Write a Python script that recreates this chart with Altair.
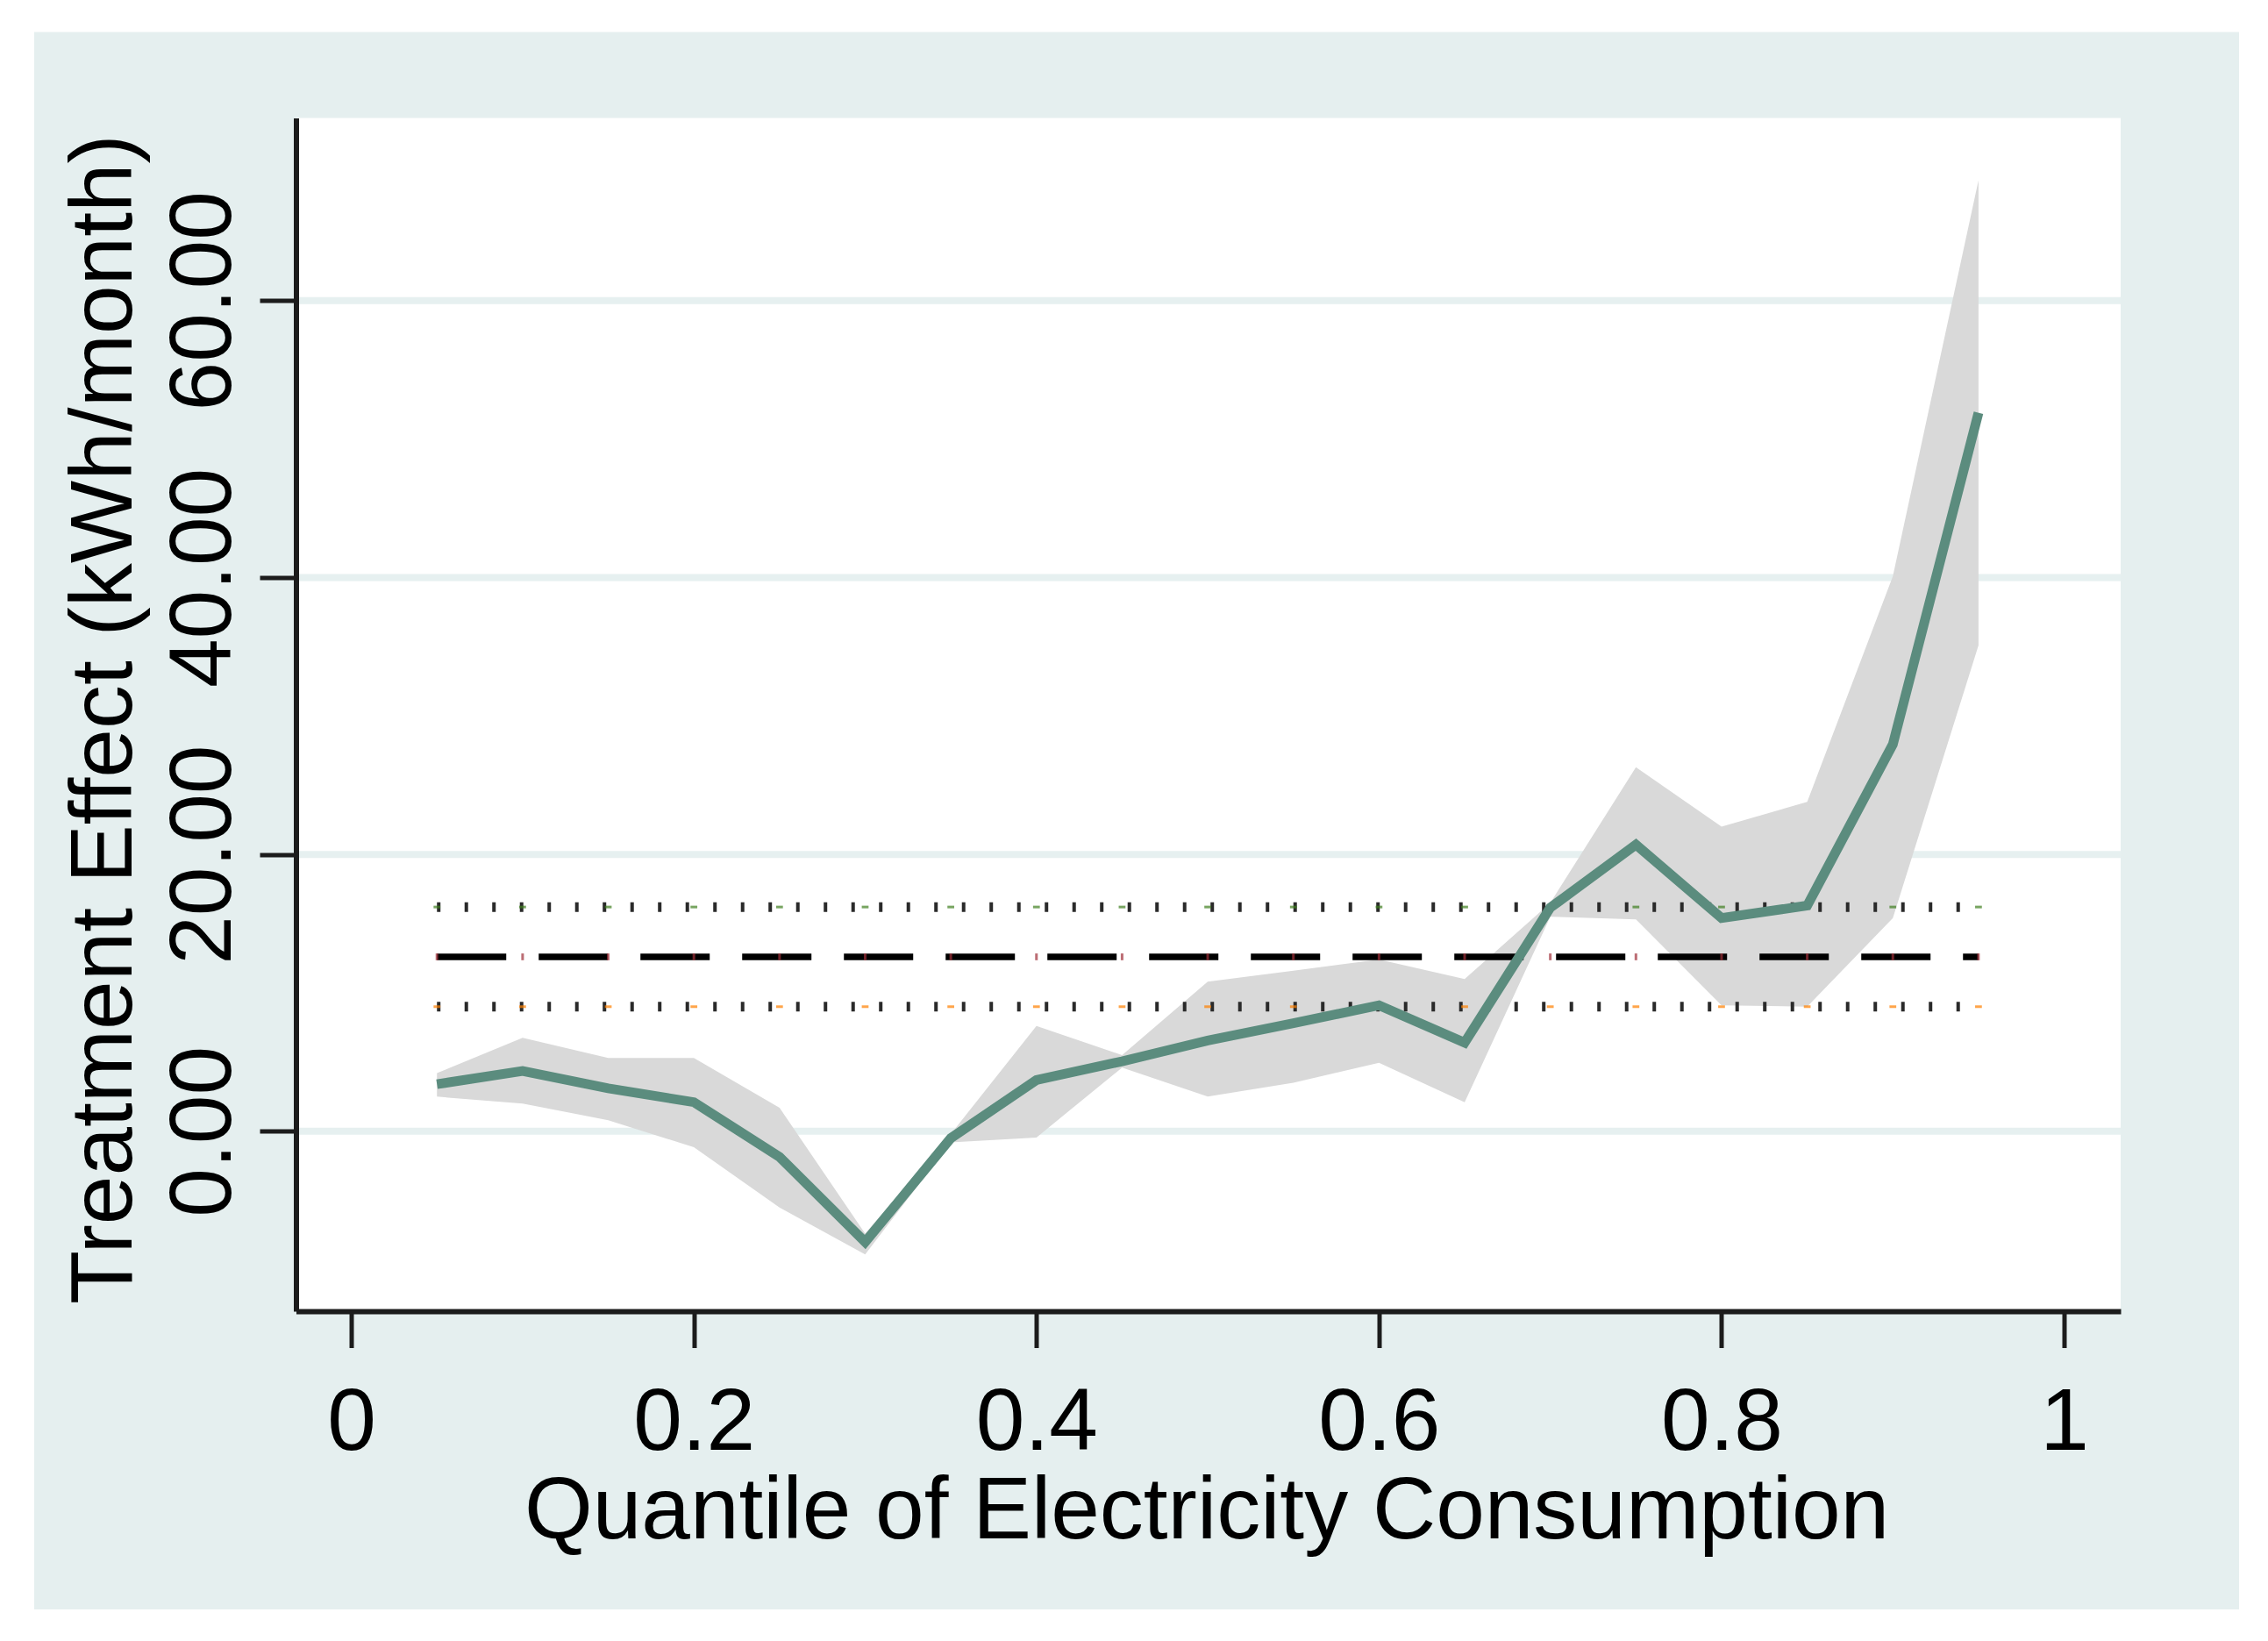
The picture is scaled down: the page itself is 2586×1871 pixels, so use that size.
import altair as alt
import pandas as pd

# ---- data ----
quantiles = [0.05, 0.10, 0.15, 0.20, 0.25, 0.30, 0.35, 0.40, 0.45, 0.50,
             0.55, 0.60, 0.65, 0.70, 0.75, 0.80, 0.85, 0.90, 0.95]
effect = [3.4, 4.35, 3.1, 2.1, -1.85, -8.0, -0.5, 3.7, 5.05, 6.55,
          7.8, 9.1, 6.4, 16.15, 20.7, 15.4, 16.3, 27.95, 51.9]
ci_low = [2.5, 2.0, 0.8, -1.15, -5.5, -8.9, -0.8, -0.45, 4.6, 2.5,
          3.5, 4.95, 2.1, 15.5, 15.3, 9.1, 9.0, 15.4, 35.1]
ci_high = [4.2, 6.75, 5.3, 5.3, 1.7, -7.4, -0.2, 7.6, 5.5, 10.8,
           11.6, 12.4, 11.0, 16.5, 26.3, 22.0, 23.8, 40.1, 68.7]

ref_x = [0.05, 0.95]
ate_mean = 12.6
ate_high = 16.2
ate_low = 9.0

x_ticks = [0, 0.2, 0.4, 0.6, 0.8, 1]
y_ticks = [0, 20, 40, 60]

x_title = "Quantile of Electricity Consumption"
y_title = "Treatment Effect (kWh/month)"

# ---- styles ----
W, H = 2080.5, 1360.5
PANEL = "#e5efef"
GRID = "#e6f0f0"
LINE = "#5b8c7e"
BAND = "#d9d9d9"
FONT = "Liberation Sans"

x_scale = alt.Scale(domain=[-0.0323, 1.033], nice=False, zero=False)
y_scale = alt.Scale(domain=[-13.0, 73.2], nice=False, zero=False)

x_axis = alt.Axis(values=x_ticks, format="~g", title=x_title, grid=False,
                  domainColor="#1c1c1c", domainWidth=6, tickColor="#1c1c1c",
                  tickWidth=5, tickSize=41.5, labelFontSize=100, labelFont=FONT,
                  labelColor="black", labelPadding=116, labelBaseline="alphabetic",
                  labelAlign="center", labelFlush=False, labelOverlap=False,
                  labelBound=False, labelLimit=0, titleFontSize=100, titleFont=FONT,
                  titleFontWeight="normal", titleColor="black", titleLimit=0,
                  titleBaseline="alphabetic", titleAlign="center",
                  titleX=1038, titleY=258.5, zindex=1)
y_axis = alt.Axis(values=y_ticks, format=".2f", title=y_title, grid=False,
                  domainColor="#1c1c1c", domainWidth=6, tickColor="#1c1c1c",
                  tickWidth=5, tickSize=41.5, labelFontSize=100, labelFont=FONT,
                  labelColor="black", labelAngle=270, labelAlign="center",
                  labelBaseline="alphabetic", labelPadding=34, labelFlush=False,
                  labelOverlap=False, labelBound=False, labelLimit=0,
                  titleFontSize=100, titleLimit=0,
                  titleFont=FONT, titleFontWeight="normal", titleColor="black",
                  titleAngle=270, titleAlign="center", titleBaseline="alphabetic",
                  titleX=-188.5, titleY=685, zindex=1)

one = pd.DataFrame({"d": [0]})
df = pd.DataFrame({"q": quantiles, "est": effect, "lo": ci_low, "hi": ci_high})
grid_df = pd.DataFrame({"g": y_ticks})
ref_df = pd.DataFrame({"x1": [ref_x[0]], "x2": [ref_x[1]],
                       "mean": [ate_mean], "hi": [ate_high], "lo": [ate_low]})
mk_df = pd.DataFrame({"q": quantiles,
                      "mean": [ate_mean] * len(quantiles),
                      "hi": [ate_high] * len(quantiles),
                      "lo": [ate_low] * len(quantiles)})

panel = alt.Chart(one).mark_rect(color=PANEL).encode(
    x=alt.value(-298.5), x2=alt.value(2215.5), y=alt.value(-98), y2=alt.value(1700.5))
plot_bg = alt.Chart(one).mark_rect(color="white").encode(
    x=alt.value(0), x2=alt.value(W), y=alt.value(0), y2=alt.value(H))

grid = alt.Chart(grid_df).mark_rule(color=GRID, strokeWidth=8).encode(
    y=alt.Y("g:Q", scale=y_scale, axis=y_axis), x=alt.value(0), x2=alt.value(W))

band = alt.Chart(df).mark_area(color=BAND, opacity=1).encode(
    x=alt.X("q:Q", scale=x_scale, axis=x_axis),
    y=alt.Y("lo:Q", scale=y_scale, axis=y_axis),
    y2="hi:Q")

ref_mean = alt.Chart(ref_df).mark_rule(color="black", strokeWidth=7.5,
                                       strokeDash=[79, 37]).encode(
    x=alt.X("x1:Q", scale=x_scale, axis=x_axis), x2="x2:Q",
    y=alt.Y("mean:Q", scale=y_scale, axis=y_axis))
ref_hi = alt.Chart(ref_df).mark_rule(color="#2a2a2a", strokeWidth=11,
                                     strokeDash=[4, 27.5]).encode(
    x=alt.X("x1:Q", scale=x_scale, axis=x_axis), x2="x2:Q",
    y=alt.Y("hi:Q", scale=y_scale, axis=y_axis))
ref_lo = alt.Chart(ref_df).mark_rule(color="#2a2a2a", strokeWidth=11,
                                     strokeDash=[4, 27.5]).encode(
    x=alt.X("x1:Q", scale=x_scale, axis=x_axis), x2="x2:Q",
    y=alt.Y("lo:Q", scale=y_scale, axis=y_axis))

mk_mean = alt.Chart(mk_df).mark_point(shape="stroke", color="#a0303a", size=60,
                                      angle=90, strokeWidth=3).encode(
    x=alt.X("q:Q", scale=x_scale, axis=x_axis),
    y=alt.Y("mean:Q", scale=y_scale, axis=y_axis))
mk_hi = alt.Chart(mk_df).mark_point(shape="stroke", color="#3f7f1f", size=60,
                                    strokeWidth=3).encode(
    x=alt.X("q:Q", scale=x_scale, axis=x_axis),
    y=alt.Y("hi:Q", scale=y_scale, axis=y_axis))
mk_lo = alt.Chart(mk_df).mark_point(shape="stroke", color="#ff8000", size=60,
                                    strokeWidth=3).encode(
    x=alt.X("q:Q", scale=x_scale, axis=x_axis),
    y=alt.Y("lo:Q", scale=y_scale, axis=y_axis))

line = alt.Chart(df).mark_line(color=LINE, strokeWidth=11).encode(
    x=alt.X("q:Q", scale=x_scale, axis=x_axis),
    y=alt.Y("est:Q", scale=y_scale, axis=y_axis))

chart = alt.layer(panel, plot_bg, grid, band, ref_hi, ref_mean, ref_lo,
                  mk_hi, mk_mean, mk_lo, line).properties(
    width=W, height=H,
    autosize=alt.AutoSizeParams(type="none"),
    padding={"left": 329.5, "top": 126.5, "right": 150, "bottom": 360},
    background="white",
).configure_view(stroke=None).configure(font=FONT)

chart.save("out.html", embed_options={"renderer": "svg", "actions": False})
